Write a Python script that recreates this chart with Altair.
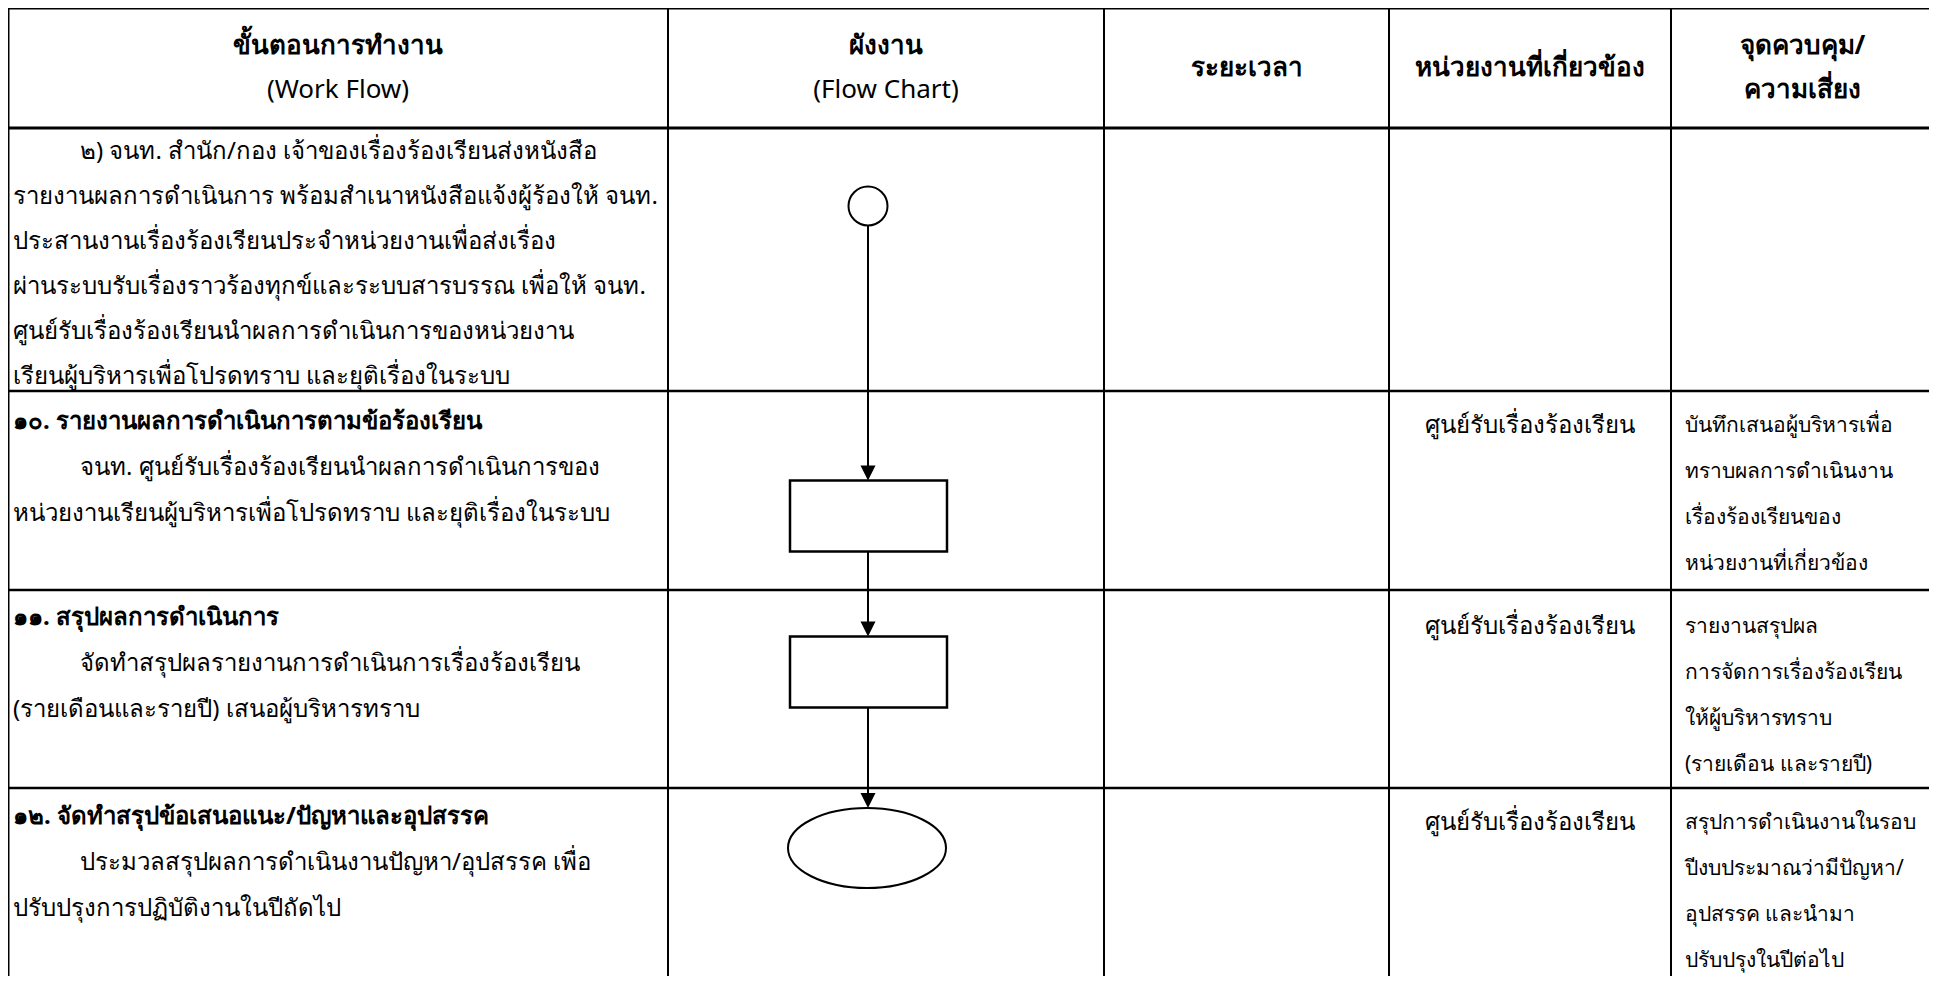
import altair as alt
import pandas as pd

# ---------------- content ----------------
headers = [
    ["ขั้นตอนการทำงาน", "(Work Flow)"],
    ["ผังงาน", "(Flow Chart)"],
    ["ระยะเวลา"],
    ["หน่วยงานที่เกี่ยวข้อง"],
    ["จุดควบคุม/", "ความเสี่ยง"],
]
header_bold = [[True, False], [True, False], [True], [True], [True, True]]

step_titles = [
    None,
    "๑๐. รายงานผลการดำเนินการตามข้อร้องเรียน",
    "๑๑. สรุปผลการดำเนินการ",
    "๑๒. จัดทำสรุปข้อเสนอแนะ/ปัญหาและอุปสรรค",
]
step_details = [
    [
        "๒) จนท. สำนัก/กอง เจ้าของเรื่องร้องเรียนส่งหนังสือ",
        "รายงานผลการดำเนินการ พร้อมสำเนาหนังสือแจ้งผู้ร้องให้ จนท.",
        "ประสานงานเรื่องร้องเรียนประจำหน่วยงานเพื่อส่งเรื่อง",
        "ผ่านระบบรับเรื่องราวร้องทุกข์และระบบสารบรรณ เพื่อให้ จนท.",
        "ศูนย์รับเรื่องร้องเรียนนำผลการดำเนินการของหน่วยงาน",
        "เรียนผู้บริหารเพื่อโปรดทราบ และยุติเรื่องในระบบ",
    ],
    [
        "จนท. ศูนย์รับเรื่องร้องเรียนนำผลการดำเนินการของ",
        "หน่วยงานเรียนผู้บริหารเพื่อโปรดทราบ และยุติเรื่องในระบบ",
    ],
    [
        "จัดทำสรุปผลรายงานการดำเนินการเรื่องร้องเรียน",
        "(รายเดือนและรายปี)  เสนอผู้บริหารทราบ",
    ],
    [
        "ประมวลสรุปผลการดำเนินงานปัญหา/อุปสรรค เพื่อ",
        "ปรับปรุงการปฏิบัติงานในปีถัดไป",
    ],
]
durations = ["", "", "", ""]
units = ["", "ศูนย์รับเรื่องร้องเรียน", "ศูนย์รับเรื่องร้องเรียน", "ศูนย์รับเรื่องร้องเรียน"]
controls = [
    [],
    ["บันทึกเสนอผู้บริหารเพื่อ", "ทราบผลการดำเนินงาน", "เรื่องร้องเรียนของ", "หน่วยงานที่เกี่ยวข้อง"],
    ["รายงานสรุปผล", "การจัดการเรื่องร้องเรียน", "ให้ผู้บริหารทราบ", "(รายเดือน และรายปี)"],
    ["สรุปการดำเนินงานในรอบ", "ปีงบประมาณว่ามีปัญหา/", "อุปสรรค และนำมา", "ปรับปรุงในปีต่อไป"],
]
flow_symbols = ["connector", "process", "process", "terminator"]

# ---------------- layout ----------------
W, H = 1921, 968
X0, Y0 = 8, 8
col_edges = [8, 668, 1104, 1389, 1671, 1934]
row_edges = [8, 128, 391, 590, 788, 984]
FONT = "Noto Sans"
FS_BODY = 24
FS_SIDE = 21
FS_HEAD = 26
LH = 46
TEXT_X = 13
INDENT_X = 80
first_line_off = [24, 31, 28, 29]
side_first_off = [35, 35, 37, 35]
flow_x = 868
symbol_cy = [206, 516, 672, 848]
box_w, box_h = 157, 71
circle_d = 39
ell_w, ell_h = 158, 80
arrow = 15

xs = alt.Scale(domain=[X0, X0 + W], nice=False, zero=False)
ys = alt.Scale(domain=[Y0, Y0 + H], reverse=True, nice=False, zero=False)
ymax = Y0 + H

# grid rules
rules = []
for i, e in enumerate(row_edges[:-1]):
    rules.append(dict(x=col_edges[0], x2=col_edges[-1], y=e, y2=e, w=3 if i < 2 else 2.5))
for e in col_edges:
    rules.append(dict(x=e, x2=e, y=row_edges[0], y2=min(row_edges[-1], ymax), w=3 if e in (col_edges[0], col_edges[-1]) else 2))
rules_df = pd.DataFrame(rules)

grid = alt.Chart(rules_df).mark_rule(color="black").encode(
    x=alt.X("x:Q", scale=xs, axis=None),
    x2="x2:Q",
    y=alt.Y("y:Q", scale=ys, axis=None),
    y2="y2:Q",
    strokeWidth=alt.StrokeWidth("w:Q", scale=None),
)

# texts
texts = []
hdr_mid = (row_edges[0] + row_edges[1]) / 2
for ci, lines in enumerate(headers):
    cx = (col_edges[ci] + col_edges[ci + 1]) / 2
    n = len(lines)
    for li, t in enumerate(lines):
        y = hdr_mid + (li - (n - 1) / 2) * 44
        texts.append(dict(x=cx, y=y, t=t, a="center", b=header_bold[ci][li], s=FS_HEAD))

for ri in range(4):
    top = row_edges[ri + 1]
    y = top + first_line_off[ri]
    if step_titles[ri]:
        texts.append(dict(x=TEXT_X, y=y, t=step_titles[ri], a="left", b=True, s=FS_BODY))
        y += LH
    for li, t in enumerate(step_details[ri]):
        texts.append(dict(x=INDENT_X if li == 0 else TEXT_X, y=y, t=t, a="left", b=False, s=FS_BODY))
        y += 45 if ri == 0 else LH
    sy = top + side_first_off[ri]
    if units[ri]:
        texts.append(dict(x=(col_edges[3] + col_edges[4]) / 2, y=sy, t=units[ri], a="center", b=False, s=FS_BODY))
    for li, t in enumerate(controls[ri]):
        texts.append(dict(x=col_edges[4] + 14, y=sy + li * LH, t=t, a="left", b=False, s=FS_SIDE))

tdf = pd.DataFrame(texts)
text_layers = []
for a in ["left", "center"]:
    for b in [False, True]:
        sub = tdf[(tdf.a == a) & (tdf.b == b)]
        if len(sub) == 0:
            continue
        text_layers.append(
            alt.Chart(sub).mark_text(
                align=a, baseline="middle", font=FONT,
                fontWeight="bold" if b else "normal", color="black"
            ).encode(
                x=alt.X("x:Q", scale=xs, axis=None),
                y=alt.Y("y:Q", scale=ys, axis=None),
                text="t:N",
                size=alt.Size("s:Q", scale=None),
            )
        )

# flowchart
boxes, conns, heads, circles, ellipses = [], [], [], [], []
prev_bottom = None
for ri, s in enumerate(flow_symbols):
    cy = symbol_cy[ri]
    if s == "connector":
        circles.append(dict(x=flow_x, y=cy))
        top, bot = cy - circle_d / 2, cy + circle_d / 2
    elif s == "process":
        boxes.append(dict(x=flow_x - box_w / 2 + 0.5, x2=flow_x + box_w / 2 + 0.5, y=cy - box_h / 2, y2=cy + box_h / 2))
        top, bot = cy - box_h / 2, cy + box_h / 2
    else:
        ellipses.append(dict(x=flow_x - 1, y=cy))
        top, bot = cy - ell_h / 2, cy + ell_h / 2
    if prev_bottom is not None:
        conns.append(dict(x=flow_x, y=prev_bottom, y2=top - arrow + 2))
        heads.append(dict(x=flow_x, y=top - arrow / 2))
    prev_bottom = bot

enc_xy = dict(
    x=alt.X("x:Q", scale=xs, axis=None),
    y=alt.Y("y:Q", scale=ys, axis=None),
)
conn_layer = alt.Chart(pd.DataFrame(conns)).mark_rule(color="black", strokeWidth=2).encode(
    y2="y2:Q", **enc_xy
)
head_layer = alt.Chart(pd.DataFrame(heads)).mark_point(
    shape="M -1 -1 L 1 -1 L 0 1 Z", size=arrow * arrow, filled=True, color="black", opacity=1, strokeWidth=0
).encode(**enc_xy)
box_layer = alt.Chart(pd.DataFrame(boxes)).mark_rect(fill="white", stroke="black", strokeWidth=2.5).encode(
    x2="x2:Q", y2="y2:Q", **enc_xy
)
circle_layer = alt.Chart(pd.DataFrame(circles)).mark_point(
    shape="circle", size=circle_d * circle_d, fill="white", stroke="black", strokeWidth=2, opacity=1, filled=False
).encode(**enc_xy)
ry = ell_h / ell_w
ell_path = f"M -1 0 A 1 {ry:.3f} 0 1 0 1 0 A 1 {ry:.3f} 0 1 0 -1 0 Z"
ell_layer = alt.Chart(pd.DataFrame(ellipses)).mark_point(
    shape=ell_path, size=ell_w * ell_w, fill="white", stroke="black", strokeWidth=2, opacity=1, filled=False
).encode(**enc_xy)

chart = alt.layer(
    grid, conn_layer, head_layer, box_layer, circle_layer, ell_layer, *text_layers
).properties(width=W, height=H, padding=0, autosize="none").configure_view(stroke=None)

chart.save("out.html", embed_options={"renderer": "svg", "actions": False})
